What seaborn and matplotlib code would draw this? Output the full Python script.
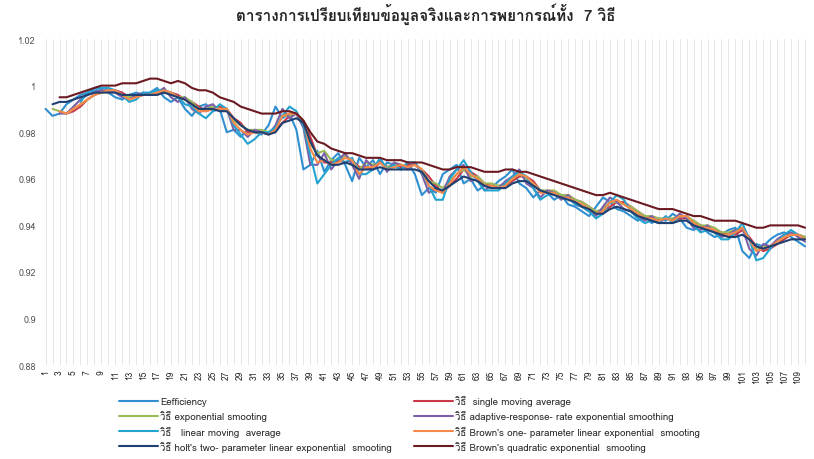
import numpy as np
import pandas as pd
import seaborn as sns
import matplotlib
matplotlib.use('Agg')
import matplotlib.pyplot as plt
from matplotlib import font_manager
from matplotlib.ft2font import FT2Font
from matplotlib.ticker import FuncFormatter, MultipleLocator

title = 'ตารางการเปรียบเทียบข้อมูลจริงและการพยากรณ์ทั้ง  7 วิธี'

labels = [
    'Eefficiency',
    'วิธี  single moving average',
    'วิธี exponential smooting',
    'วิธี adaptive-response- rate exponential smoothing',
    'วิธี   linear moving  average',
    "วิธี Brown's one- parameter linear exponential  smooting",
    "วิธี holt's two- parameter linear exponential  smooting",
    "วิธี Brown's quadratic exponential  smooting",
]
colors = ['#2f8fd0', '#c8374a', '#9bbb59', '#7a5fa8', '#23a3cf', '#f7894a', '#1f3f70', '#6b1a22']

efficiency = [0.990, 0.987, 0.988, 0.992, 0.994, 0.996, 0.997, 0.998, 0.998, 0.997,
              0.995, 0.994, 0.996, 0.997, 0.996, 0.997, 0.999, 0.995, 0.993, 0.995,
              0.990, 0.987, 0.991, 0.992, 0.989, 0.990, 0.980, 0.981, 0.978, 0.981,
              0.980, 0.979, 0.983, 0.991, 0.986, 0.988, 0.981, 0.964, 0.966, 0.972,
              0.963, 0.968, 0.971, 0.966, 0.959, 0.969, 0.965, 0.968, 0.962, 0.967,
              0.966, 0.964, 0.967, 0.962, 0.953, 0.956, 0.954, 0.962, 0.964, 0.966,
              0.958, 0.960, 0.955, 0.957, 0.956, 0.959, 0.961, 0.964, 0.958, 0.956,
              0.952, 0.955, 0.954, 0.951, 0.953, 0.949, 0.948, 0.946, 0.944, 0.948,
              0.952, 0.950, 0.947, 0.946, 0.944, 0.942, 0.944, 0.941, 0.943, 0.942,
              0.945, 0.943, 0.939, 0.938, 0.940, 0.937, 0.935, 0.936, 0.938, 0.939,
              0.929, 0.926, 0.932, 0.931, 0.934, 0.936, 0.937, 0.935, 0.933, 0.931]

# forecasts start later, None = no forecast yet
single_ma = [None, None, None, 0.988, 0.989, 0.991, 0.994, 0.996, 0.997, 0.998,
             0.998, 0.997, 0.995, 0.995, 0.996, 0.996, 0.997, 0.997, 0.997, 0.996,
             0.994, 0.993, 0.991, 0.989, 0.990, 0.991, 0.990, 0.986, 0.984, 0.980,
             0.980, 0.980, 0.980, 0.981, 0.984, 0.987, 0.988, 0.985, 0.978, 0.970,
             0.967, 0.967, 0.968, 0.967, 0.968, 0.965, 0.965, 0.964, 0.967, 0.965,
             0.966, 0.965, 0.966, 0.966, 0.964, 0.961, 0.957, 0.954, 0.957, 0.960,
             0.964, 0.963, 0.961, 0.958, 0.957, 0.956, 0.957, 0.959, 0.961, 0.961,
             0.959, 0.955, 0.954, 0.954, 0.953, 0.953, 0.951, 0.950, 0.948, 0.946,
             0.946, 0.948, 0.950, 0.950, 0.948, 0.946, 0.944, 0.943, 0.942, 0.943,
             0.942, 0.943, 0.943, 0.942, 0.940, 0.939, 0.938, 0.937, 0.936, 0.936,
             0.938, 0.935, 0.931, 0.929, 0.930, 0.932, 0.934, 0.936, 0.936, 0.935]

exp_smooth = [None, 0.990, 0.989, 0.988, 0.990, 0.992, 0.994, 0.996, 0.997, 0.998,
              0.997, 0.996, 0.995, 0.996, 0.996, 0.996, 0.997, 0.998, 0.997, 0.995,
              0.995, 0.993, 0.990, 0.990, 0.991, 0.990, 0.990, 0.985, 0.983, 0.981,
              0.981, 0.981, 0.980, 0.982, 0.987, 0.987, 0.988, 0.985, 0.975, 0.971,
              0.972, 0.968, 0.968, 0.970, 0.968, 0.964, 0.967, 0.966, 0.967, 0.965,
              0.966, 0.966, 0.965, 0.966, 0.964, 0.959, 0.958, 0.956, 0.959, 0.962,
              0.964, 0.961, 0.961, 0.958, 0.958, 0.957, 0.958, 0.960, 0.962, 0.960,
              0.958, 0.955, 0.955, 0.955, 0.953, 0.953, 0.951, 0.950, 0.948, 0.946,
              0.947, 0.950, 0.950, 0.949, 0.948, 0.946, 0.944, 0.944, 0.943, 0.943,
              0.943, 0.944, 0.944, 0.942, 0.940, 0.940, 0.939, 0.937, 0.937, 0.938,
              0.939, 0.934, 0.930, 0.931, 0.931, 0.933, 0.935, 0.936, 0.936, 0.935]

arrses = [None, None, 0.988, 0.988, 0.991, 0.994, 0.996, 0.997, 0.998, 0.998,
          0.997, 0.995, 0.994, 0.996, 0.997, 0.996, 0.997, 0.999, 0.995, 0.993,
          0.995, 0.990, 0.988, 0.991, 0.992, 0.989, 0.990, 0.981, 0.981, 0.978,
          0.981, 0.980, 0.979, 0.983, 0.990, 0.986, 0.988, 0.982, 0.966, 0.966,
          0.971, 0.964, 0.968, 0.971, 0.966, 0.960, 0.968, 0.965, 0.968, 0.963,
          0.967, 0.966, 0.964, 0.967, 0.962, 0.954, 0.956, 0.954, 0.961, 0.964,
          0.966, 0.959, 0.960, 0.955, 0.957, 0.956, 0.959, 0.961, 0.964, 0.958,
          0.956, 0.952, 0.955, 0.954, 0.951, 0.953, 0.949, 0.948, 0.946, 0.944,
          0.948, 0.952, 0.950, 0.947, 0.946, 0.944, 0.942, 0.944, 0.941, 0.943,
          0.942, 0.945, 0.943, 0.939, 0.938, 0.940, 0.937, 0.935, 0.936, 0.938,
          0.939, 0.930, 0.927, 0.932, 0.931, 0.934, 0.936, 0.937, 0.935, 0.933]

linear_ma = [None, None, None, None, None, 0.993, 0.997, 0.999, 0.999, 0.999,
             0.998, 0.996, 0.993, 0.994, 0.997, 0.997, 0.998, 0.998, 0.997, 0.995,
             0.992, 0.991, 0.988, 0.986, 0.989, 0.992, 0.990, 0.983, 0.979, 0.975,
             0.977, 0.980, 0.980, 0.982, 0.987, 0.991, 0.989, 0.983, 0.970, 0.958,
             0.962, 0.966, 0.969, 0.967, 0.969, 0.962, 0.962, 0.964, 0.969, 0.964,
             0.966, 0.964, 0.967, 0.967, 0.963, 0.957, 0.951, 0.951, 0.960, 0.964,
             0.968, 0.963, 0.959, 0.955, 0.955, 0.955, 0.958, 0.961, 0.963, 0.961,
             0.956, 0.951, 0.953, 0.954, 0.952, 0.952, 0.949, 0.948, 0.946, 0.943,
             0.945, 0.950, 0.953, 0.951, 0.946, 0.943, 0.941, 0.942, 0.941, 0.944,
             0.941, 0.944, 0.944, 0.940, 0.937, 0.938, 0.937, 0.934, 0.934, 0.937,
             0.941, 0.934, 0.925, 0.926, 0.930, 0.933, 0.936, 0.938, 0.936, 0.934]

brown_one = [None, None, 0.989, 0.988, 0.990, 0.992, 0.994, 0.996, 0.997, 0.998,
             0.998, 0.996, 0.994, 0.995, 0.996, 0.996, 0.997, 0.998, 0.997, 0.995,
             0.994, 0.992, 0.989, 0.989, 0.990, 0.990, 0.990, 0.984, 0.981, 0.979,
             0.980, 0.980, 0.979, 0.981, 0.987, 0.988, 0.988, 0.985, 0.973, 0.967,
             0.968, 0.966, 0.967, 0.969, 0.968, 0.962, 0.965, 0.965, 0.967, 0.964,
             0.965, 0.966, 0.965, 0.966, 0.964, 0.957, 0.955, 0.954, 0.958, 0.962,
             0.965, 0.962, 0.960, 0.957, 0.957, 0.956, 0.957, 0.960, 0.962, 0.961,
             0.958, 0.954, 0.954, 0.954, 0.952, 0.952, 0.950, 0.949, 0.947, 0.945,
             0.946, 0.950, 0.951, 0.949, 0.947, 0.945, 0.943, 0.943, 0.942, 0.943,
             0.942, 0.944, 0.944, 0.941, 0.939, 0.939, 0.938, 0.936, 0.936, 0.937,
             0.939, 0.934, 0.929, 0.930, 0.931, 0.933, 0.935, 0.936, 0.936, 0.934]

holt = [None, 0.992, 0.993, 0.993, 0.994, 0.995, 0.996, 0.997, 0.997, 0.997,
        0.997, 0.996, 0.996, 0.996, 0.996, 0.996, 0.996, 0.997, 0.996, 0.995,
        0.994, 0.992, 0.990, 0.990, 0.990, 0.989, 0.989, 0.986, 0.983, 0.981,
        0.980, 0.980, 0.979, 0.980, 0.984, 0.985, 0.986, 0.984, 0.976, 0.970,
        0.968, 0.966, 0.966, 0.967, 0.966, 0.964, 0.964, 0.964, 0.965, 0.964,
        0.964, 0.964, 0.964, 0.964, 0.963, 0.959, 0.956, 0.955, 0.957, 0.959,
        0.961, 0.960, 0.959, 0.957, 0.956, 0.956, 0.956, 0.958, 0.959, 0.959,
        0.957, 0.955, 0.954, 0.953, 0.952, 0.951, 0.950, 0.948, 0.947, 0.945,
        0.945, 0.947, 0.948, 0.947, 0.946, 0.944, 0.943, 0.942, 0.941, 0.941,
        0.941, 0.942, 0.942, 0.940, 0.939, 0.938, 0.937, 0.936, 0.935, 0.935,
        0.936, 0.934, 0.931, 0.930, 0.931, 0.932, 0.933, 0.934, 0.934, 0.934]

brown_quad = [None, None, 0.995, 0.995, 0.996, 0.997, 0.998, 0.999, 1.000, 1.000,
              1.000, 1.001, 1.001, 1.001, 1.002, 1.003, 1.003, 1.002, 1.001, 1.002,
              1.001, 0.999, 0.998, 0.998, 0.997, 0.995, 0.994, 0.993, 0.991, 0.990,
              0.989, 0.988, 0.988, 0.988, 0.989, 0.989, 0.988, 0.985, 0.980, 0.976,
              0.975, 0.973, 0.972, 0.971, 0.971, 0.970, 0.969, 0.969, 0.969, 0.968,
              0.968, 0.968, 0.967, 0.967, 0.967, 0.966, 0.965, 0.964, 0.964, 0.965,
              0.965, 0.965, 0.964, 0.963, 0.963, 0.963, 0.964, 0.964, 0.963, 0.963,
              0.962, 0.961, 0.960, 0.959, 0.958, 0.957, 0.956, 0.955, 0.954, 0.953,
              0.953, 0.954, 0.953, 0.952, 0.951, 0.950, 0.949, 0.948, 0.947, 0.947,
              0.947, 0.946, 0.945, 0.944, 0.944, 0.943, 0.942, 0.942, 0.942, 0.942,
              0.941, 0.940, 0.939, 0.939, 0.940, 0.940, 0.940, 0.940, 0.940, 0.939]

series = [efficiency, single_ma, exp_smooth, arrses, linear_ma, brown_one, holt, brown_quad]
periods = np.arange(1, len(efficiency) + 1)

frames = []
for lab, vals in zip(labels, series):
    frames.append(pd.DataFrame({'period': periods, 'value': pd.array(vals, dtype='Float64').astype(float), 'method': lab}))
df = pd.concat(frames).dropna()


# find a font that actually has thai glyphs
def has_thai(path):
    try:
        return FT2Font(path).get_char_index(ord('ต')) != 0
    except Exception:
        return False

thai_fonts = []
for f in font_manager.fontManager.ttflist:
    if f.name not in thai_fonts and has_thai(f.fname):
        thai_fonts.append(f.name)

sns.set_theme(style='white')
plt.rcParams['font.family'] = thai_fonts[:1] + ['DejaVu Sans']

fig, ax = plt.subplots(figsize=(8.14, 4.6), dpi=100)
fig.subplots_adjust(left=0.05, right=0.995, top=0.913, bottom=0.204)

sns.lineplot(data=df, x='period', y='value', hue='method', hue_order=labels,
             palette=colors, linewidth=1.5, ax=ax, legend=False)

ax.set_xlim(0.3, 110.7)
ax.set_ylim(0.88, 1.02)
ax.yaxis.set_major_locator(MultipleLocator(0.02))
ax.yaxis.set_major_formatter(FuncFormatter(lambda v, p: '%g' % round(v, 2)))
ax.set_xticks(periods[::2])
ax.set_xticks(periods, minor=True)
ax.tick_params(axis='x', which='major', labelsize=6, rotation=90, length=0, pad=3)
ax.tick_params(axis='x', which='minor', length=0)
ax.tick_params(axis='y', labelsize=6.5, length=0, colors='#555555')
ax.grid(axis='x', which='both', color='#e2e2e2', linewidth=0.6)
ax.set_xlabel('')
ax.set_ylabel('')
for s in ax.spines.values():
    s.set_visible(False)

ax.set_title(title, fontsize=11, fontweight='bold', pad=14)

handles = [plt.Line2D([], [], color=c, linewidth=1.5) for c in colors]
order = [0, 2, 4, 6, 1, 3, 5, 7]
ax.legend([handles[i] for i in order], [labels[i] for i in order],
          ncol=2, loc='upper left', bbox_to_anchor=(0.09, -0.065), frameon=False,
          fontsize=7, handlelength=4, columnspacing=2.2, labelspacing=0.42,
          handletextpad=0.3)

fig.savefig('out.png', dpi=100)
